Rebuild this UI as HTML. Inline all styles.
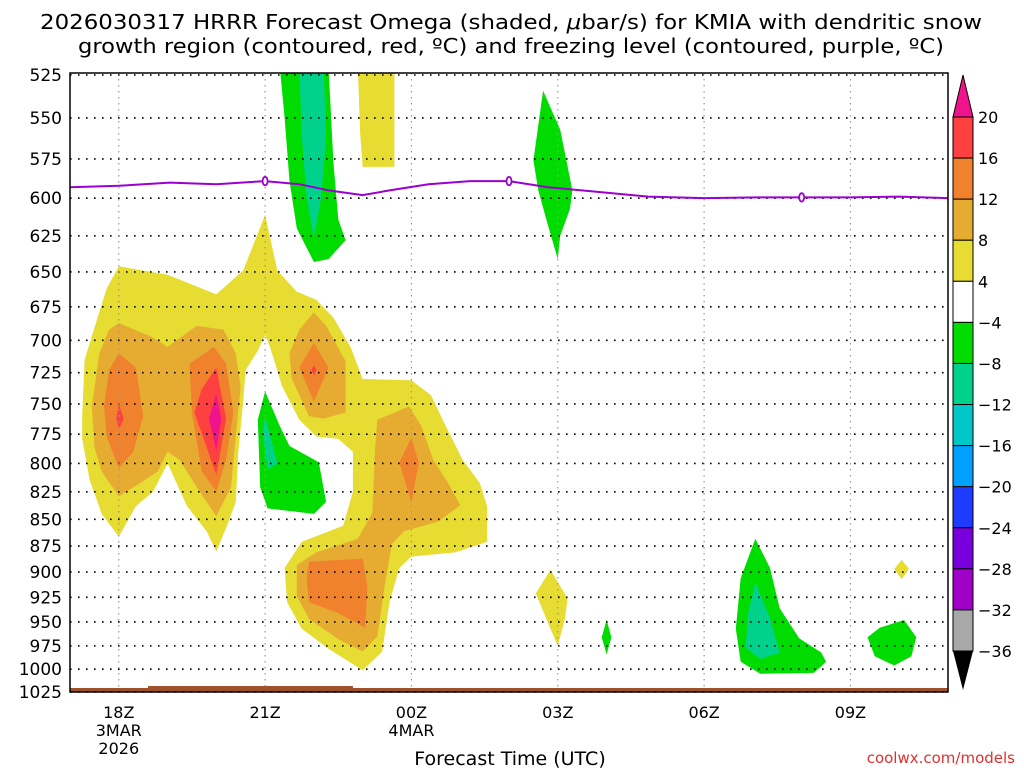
<!DOCTYPE html>
<html><head><meta charset="utf-8"><style>
html,body{margin:0;padding:0;background:#fff;width:1024px;height:768px;overflow:hidden}
svg{display:block;font-family:"DejaVu Sans","Liberation Sans",sans-serif}
</style></head><body>
<svg id="chart" width="1024" height="768" viewBox="0 0 1024 768" xmlns="http://www.w3.org/2000/svg">
<text x="40" y="29" font-size="20" textLength="942" lengthAdjust="spacingAndGlyphs">2026030317 HRRR Forecast Omega (shaded, <tspan font-style="italic">μ</tspan>bar/s) for KMIA with dendritic snow</text>
<text x="78" y="53" font-size="20" textLength="866" lengthAdjust="spacingAndGlyphs">growth region (contoured, red, ºC) and freezing level (contoured, purple, ºC)</text>
<g id="plot"></g>
<g id="axes"></g>
<g id="cbar"></g>
<text x="510" y="765" font-size="19" text-anchor="middle">Forecast Time (UTC)</text>
<text x="1015" y="763" font-size="15" text-anchor="end" fill="#e03030">coolwx.com/models</text>
</svg>
<script>
// ---- data ----
const pressureTicks=[525,550,575,600,625,650,675,700,725,750,775,800,825,850,875,900,925,950,975,1000,1025];
const timeTicks=[18,21,24,27,30,33];
const timeLabels=["18Z","21Z","00Z","03Z","06Z","09Z"];
const dateLabels={18:["3MAR","2026"],24:["4MAR"]};
const cbarLevels=[20,16,12,8,4,-4,-8,-12,-16,-20,-24,-28,-32,-36];
const cbarColors=["#ff4040","#f0822d","#e6ac32","#e6dc32","#ffffff","#00dc00","#00d28c","#00c8c8","#00a0ff","#1e3cff","#7800dc","#a000c8","#a8a8a8"];
const freezeHours=[17,18,19.05,20,21,21.7,22.3,23,23.55,24.35,25.2,26,26.8,27.85,28.85,30,31.1,32,33,34,35];
const freezeP=[593,592,590,591,589,591,595,598,595,591,589,589,593,596,599,600,599.5,599.5,599.5,599,600];
const freezeLabelHours=[21,26,32];
const y4=[[18.0,646],[19.0,652],[20.0,666],[20.55,649],[21.0,611],[21.25,649],[21.65,664],[22.05,670],[22.4,683],[22.75,705],[23.0,730],[24.0,731],[24.4,743],[24.7,768],[25.05,797],[25.4,817],[25.55,838],[25.55,871],[24.9,881],[24.0,885],[23.75,896],[23.55,930],[23.4,981],[23.0,1001],[22.3,978],[21.75,957],[21.45,930],[21.4,896],[21.75,871],[22.6,856],[22.8,825],[22.8,790],[22.5,779],[22.05,777],[21.7,763],[21.35,736],[21.1,705],[21.0,696],[20.85,708],[20.6,723],[20.55,748],[20.45,790],[20.4,834],[20.2,858],[20.0,880],[19.8,861],[19.4,838],[19.0,800],[18.7,825],[18.35,838],[18.0,866],[17.65,845],[17.4,814],[17.25,779],[17.25,760],[17.3,715],[17.55,685],[17.75,662]];
const y4b=[[22.9,520],[23.65,520],[23.65,580],[23.0,580],[22.95,560]];
const y4c=[[26.85,898],[27.2,926],[27.15,946],[27.0,975],[26.8,951],[26.55,921]];
const y4d=[[34.05,888],[34.2,897],[34.05,907],[33.9,897]];
const g8a=[[18.0,687],[18.65,697],[19.0,705],[19.6,689],[20.15,692],[20.4,710],[20.5,736],[20.4,777],[20.3,821],[20.0,847],[19.6,821],[19.25,797],[19.0,790],[18.8,807],[18.3,821],[18.0,829],[17.65,807],[17.5,786],[17.45,752],[17.6,710],[17.8,692]];
const g8b=[[22.0,679],[22.25,689],[22.65,716],[22.65,757],[22.2,762],[21.9,760],[21.55,730],[21.5,710],[21.7,692]];
const g8c=[[23.3,763],[23.95,752],[24.2,768],[24.45,797],[24.75,817],[25.0,837],[24.55,852],[23.85,861],[23.6,873],[23.45,914],[23.3,965],[23.0,981],[22.5,968],[21.9,947],[21.65,924],[21.65,893],[22.05,881],[22.9,868],[23.2,844],[23.25,790]];
const o12a=[[18.0,710],[18.35,721],[18.5,760],[18.3,790],[18.0,804],[17.75,777],[17.7,752],[17.8,723]];
const o12b=[[19.95,705],[20.2,718],[20.35,757],[20.2,797],[20.0,825],[19.7,807],[19.5,757],[19.45,718]];
const o12c=[[22.0,702],[22.3,721],[22.0,748],[21.7,721]];
const o12d=[[24.0,778],[24.15,799],[24.0,835],[23.75,799]];
const o12e=[[21.9,890],[23.0,887],[23.1,914],[23.05,956],[22.5,941],[21.9,930],[21.85,906]];
const r16a=[[18.0,750],[18.1,762],[18.0,771],[17.95,762]];
const r16b=[[20.0,721],[20.2,762],[20.0,810],[19.55,757],[19.7,738]];
const r16c=[[22.0,719],[22.05,723],[22.0,727],[21.95,723]];
const m20a=[[20.0,742],[20.1,762],[20.0,789],[19.85,762]];
const gn4a=[[21.3,520],[22.3,520],[22.4,577],[22.5,614],[22.65,628],[22.3,641],[22.0,643],[21.65,620],[21.5,589],[21.4,550]];
const gn4b=[[21.0,740],[21.3,768],[21.5,785],[22.1,799],[22.25,834],[22.0,845],[21.05,840],[20.9,821],[20.85,763]];
const gn4c=[[26.7,534],[27.05,557],[27.3,595],[27.25,607],[27.05,625],[27.0,641],[26.8,618],[26.6,595],[26.5,576]];
const gn4d=[[28.0,948],[28.1,966],[28.0,984],[27.9,966]];
const gn4e=[[31.05,868],[31.35,896],[31.55,936],[31.95,967],[32.4,982],[32.5,992],[32.25,1004],[31.15,1005],[30.75,992],[30.65,957],[30.75,906]];
const gn4f=[[33.6,956],[34.1,948],[34.35,966],[34.25,986],[33.9,996],[33.5,986],[33.35,966]];
const t8a=[[21.7,520],[22.2,520],[22.25,560],[22.15,600],[22.0,626],[21.85,600],[21.75,560]];
const t8b=[[21.0,760],[21.25,800],[21.05,805],[20.95,773]];
const t8c=[[31.05,910],[31.35,946],[31.55,982],[31.15,989],[30.85,977],[30.9,941]];

// ---- axes ----
const X0=70,X1=948,Y0=73,Y1=692,H0=17,H1=35,P0=525,P1=1025;
const YT=75;
function xs(h){return X0+(h-H0)*(X1-X0)/(H1-H0);}
function ys(p){return YT+Math.log(p/P0)/Math.log(P1/P0)*(692-YT);}
const NS="http://www.w3.org/2000/svg";
function mk(tag,attrs,parent){const e=document.createElementNS(NS,tag);for(const k in attrs)e.setAttribute(k,attrs[k]);parent.appendChild(e);return e;}
const plot=document.getElementById('plot'),axes=document.getElementById('axes'),cbar=document.getElementById('cbar');
mk('defs',{},plot).innerHTML='<clipPath id="clip"><rect x="70" y="73" width="878" height="619"/></clipPath>';
const shapes=mk('g',{'clip-path':'url(#clip)'},plot);
const layers=[
 ["yellow-region",cbarColors[3],[y4,y4b,y4c,y4d]],
 ["gold-region",cbarColors[2],[g8a,g8b,g8c]],
 ["orange-region",cbarColors[1],[o12a,o12b,o12c,o12d,o12e]],
 ["red-region",cbarColors[0],[r16a,r16b,r16c]],
 ["magenta-region","#f0148c",[m20a]],
 ["green-region",cbarColors[5],[gn4a,gn4b,gn4c,gn4d,gn4e,gn4f]],
 ["teal-region",cbarColors[6],[t8a,t8b,t8c]]
];
layers.forEach(([name,col,polys])=>{polys.forEach(pl=>{
 const e=mk('polygon',{points:pl.map(d=>xs(d[0]).toFixed(1)+','+ys(d[1]).toFixed(1)).join(' '),fill:col},shapes);
 
 
});});
// grid
pressureTicks.forEach(p=>{
 const e=mk('line',{x1:X0,x2:X1,y1:ys(p),y2:ys(p),stroke:'#000','stroke-width':1.6,'stroke-dasharray':'1.6 6.4'},plot);
 
 
});
timeTicks.forEach(h=>{
 const e=mk('line',{x1:xs(h),x2:xs(h),y1:Y0,y2:Y1,stroke:'#999','stroke-width':1.2,'stroke-dasharray':'1.5 4.5'},plot);
 
 
});
// ground
const gnd=mk('rect',{x:X0,y:688,width:X1-X0,height:4,fill:'#a0522d'},plot);


const gnd2=mk('rect',{x:xs(18.6),y:686,width:xs(22.8)-xs(18.6),height:3,fill:'#a0522d'},plot);


// freezing line
const fl=mk('polyline',{points:freezeHours.map((h,i)=>xs(h).toFixed(1)+','+ys(freezeP[i]).toFixed(1)).join(' '),fill:'none',stroke:'#9a00d0','stroke-width':2},plot);


freezeLabelHours.forEach(h=>{
 let i=0;while(i<freezeHours.length-1&&freezeHours[i+1]<h)i++;
 const t=(h-freezeHours[i])/(freezeHours[i+1]-freezeHours[i]);
 const p=freezeP[i]+t*(freezeP[i+1]-freezeP[i]);
 const e=mk('ellipse',{cx:xs(h),cy:ys(p),rx:2.5,ry:4.2,fill:'#fff',stroke:'#9a00d0','stroke-width':1.8},plot);
 
 
});
// frame
const fr=mk('rect',{x:X0,y:Y0,width:X1-X0,height:Y1-Y0,fill:'none',stroke:'#000','stroke-width':1.5},axes);


pressureTicks.forEach(p=>{
 const e=mk('text',{x:62,y:ys(p)+6,'font-size':17,'text-anchor':'end'},axes);e.textContent=p;
 
 
});
timeTicks.forEach((h,i)=>{
 const e=mk('text',{x:xs(h),y:718,'font-size':16,'text-anchor':'middle'},axes);e.textContent=timeLabels[i];
 
 
 (dateLabels[h]||[]).forEach((s,j)=>{
  const d=mk('text',{x:xs(h),y:736+j*18,'font-size':16,'text-anchor':'middle'},axes);d.textContent=s;
  
  
 });
});
// colorbar
const CB0=117,CB1=651,CX=953,CW=20;
const step=(CB1-CB0)/(cbarLevels.length-1);
const up=mk('polygon',{points:`${CX},${CB0} ${CX+CW/2},75 ${CX+CW},${CB0}`,fill:'#f0148c',stroke:'#000','stroke-width':1},cbar);


cbarColors.forEach((c,i)=>{
 const e=mk('rect',{x:CX,y:CB0+i*step,width:CW,height:step,fill:c,stroke:'#000','stroke-width':1},cbar);
 
 
});
const dn=mk('polygon',{points:`${CX},${CB1} ${CX+CW/2},690 ${CX+CW},${CB1}`,fill:'#000'},cbar);


cbarLevels.forEach((v,i)=>{
 const e=mk('text',{x:978,y:CB0+i*step+6,'font-size':16},cbar);e.textContent=v<0?'\u2212'+(-v):v;
 
 
});
</script>
</body></html>
